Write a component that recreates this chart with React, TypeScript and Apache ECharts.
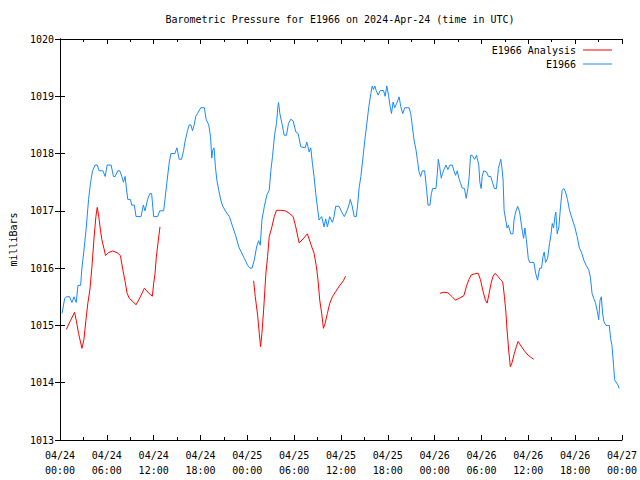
import React, { useEffect, useRef } from "react";
import * as echarts from "echarts";

const titleText = "Barometric Pressure for E1966 on 2024-Apr-24 (time in UTC)";
const dayLabels = ["04/24", "04/25", "04/26", "04/27"];
const yTicks = [1013, 1014, 1015, 1016, 1017, 1018, 1019, 1020];

// hours since 04/24 00:00 UTC, pressure in mbar
const observed: [number, number][] = [
  [0.26,1015.21],[0.6,1015.47],[0.81,1015.5],[1.23,1015.5],[1.53,1015.4],[1.79,1015.5],[2.08,1015.4],[2.3,1015.7],[2.64,1015.7],[2.81,1016.0],[3.06,1016.3],[3.36,1016.7],[3.66,1017.2],[3.92,1017.5],[4.17,1017.7],[4.51,1017.8],[4.77,1017.8],[5.02,1017.7],[5.49,1017.7],[5.79,1017.6],[6.04,1017.8],[6.55,1017.8],[6.85,1017.6],[7.06,1017.6],[7.4,1017.7],[7.66,1017.7],[7.92,1017.6],[8.13,1017.5],[8.34,1017.6],[8.51,1017.4],[8.68,1017.2],[9.02,1017.2],[9.19,1017.1],[9.53,1017.1],[9.74,1016.9],[10.38,1016.9],[10.68,1017.1],[10.89,1017.0],[11.23,1017.2],[11.49,1017.3],[11.74,1017.3],[12.0,1016.9],[12.51,1016.9],[12.77,1017.0],[13.28,1017.0],[13.45,1017.2],[13.7,1017.5],[14.0,1017.85],[14.21,1018.0],[14.72,1018.0],[14.98,1018.1],[15.28,1017.9],[15.57,1017.9],[15.83,1018.05],[16.0,1018.2],[16.34,1018.4],[16.55,1018.5],[16.77,1018.5],[16.98,1018.4],[17.19,1018.5],[17.4,1018.65],[17.62,1018.7],[18.04,1018.8],[18.5,1018.8],[18.72,1018.6],[19.06,1018.5],[19.28,1018.3],[19.45,1017.92],[19.57,1018.06],[19.74,1018.1],[19.91,1017.77],[20.09,1017.54],[20.34,1017.36],[20.6,1017.19],[20.85,1017.08],[21.28,1016.98],[21.7,1016.9],[22.13,1016.72],[22.55,1016.55],[22.9,1016.37],[23.19,1016.29],[23.62,1016.17],[24.04,1016.05],[24.34,1016.0],[24.6,1016.0],[24.89,1016.14],[25.19,1016.37],[25.45,1016.48],[25.66,1016.4],[25.87,1016.84],[26.17,1017.07],[26.51,1017.28],[26.81,1017.36],[27.02,1017.71],[27.23,1017.95],[27.49,1018.32],[27.74,1018.53],[27.92,1018.82],[28.0,1018.89],[28.17,1018.7],[28.43,1018.53],[28.72,1018.32],[29.02,1018.32],[29.28,1018.53],[29.58,1018.6],[29.87,1018.57],[30.21,1018.38],[30.51,1018.35],[30.85,1018.12],[31.41,1018.1],[31.62,1018.2],[31.92,1018.03],[32.13,1018.1],[32.34,1017.83],[32.55,1017.6],[32.77,1017.3],[32.98,1017.07],[33.19,1016.84],[33.53,1016.9],[33.83,1016.72],[34.04,1016.86],[34.26,1016.72],[34.55,1016.9],[34.9,1016.8],[35.11,1016.9],[35.32,1017.08],[35.75,1017.08],[36.09,1016.98],[36.43,1016.9],[36.77,1017.0],[37.02,1017.1],[37.19,1017.2],[37.41,1017.1],[37.7,1016.9],[37.96,1016.9],[38.13,1017.1],[38.34,1017.42],[38.55,1017.6],[38.81,1017.92],[39.06,1018.24],[39.32,1018.53],[39.57,1018.82],[39.83,1019.05],[40.0,1019.18],[40.17,1019.12],[40.34,1019.18],[40.51,1019.1],[40.77,1019.02],[41.02,1019.1],[41.45,1019.1],[41.66,1019.0],[41.87,1019.18],[42.09,1019.02],[42.3,1018.82],[42.47,1018.7],[42.68,1018.9],[42.89,1018.8],[43.15,1018.88],[43.45,1018.99],[43.66,1018.82],[43.92,1018.7],[44.17,1018.8],[44.73,1018.8],[44.94,1018.7],[45.15,1018.47],[45.36,1018.24],[45.62,1018.06],[45.79,1017.89],[46.0,1017.68],[46.21,1017.6],[46.43,1017.7],[46.72,1017.7],[46.98,1017.36],[47.15,1017.1],[47.4,1017.1],[47.58,1017.3],[47.75,1017.39],[48.17,1017.39],[48.34,1017.65],[48.47,1017.9],[48.64,1017.77],[48.85,1017.57],[49.02,1017.65],[49.19,1017.72],[49.45,1017.8],[49.7,1017.72],[49.96,1017.8],[50.26,1017.8],[50.47,1017.7],[50.68,1017.62],[50.9,1017.7],[51.11,1017.57],[51.32,1017.48],[51.53,1017.4],[51.83,1017.39],[52.04,1017.22],[52.26,1017.39],[52.43,1017.6],[52.6,1017.97],[52.81,1017.97],[53.11,1017.9],[53.36,1017.97],[53.66,1017.8],[53.79,1017.5],[53.96,1017.39],[54.09,1017.6],[54.3,1017.7],[54.64,1017.68],[54.9,1017.6],[55.19,1017.6],[55.41,1017.5],[55.66,1017.39],[55.92,1017.39],[56.17,1017.74],[56.34,1017.83],[56.47,1017.9],[56.6,1017.78],[56.77,1017.54],[56.9,1017.01],[57.11,1016.84],[57.28,1016.7],[57.45,1016.75],[57.75,1016.6],[58.04,1016.6],[58.17,1016.84],[58.38,1016.98],[58.64,1017.08],[58.89,1016.98],[59.15,1016.72],[59.4,1016.52],[59.57,1016.7],[59.75,1016.5],[60.0,1016.17],[60.17,1016.1],[60.72,1016.1],[60.94,1015.91],[61.19,1015.79],[61.45,1016.0],[61.7,1016.0],[61.88,1016.2],[62.04,1016.28],[62.21,1016.1],[62.47,1016.17],[62.72,1016.43],[62.9,1016.58],[63.07,1016.78],[63.24,1016.7],[63.41,1016.9],[63.53,1016.98],[63.7,1016.6],[63.92,1016.72],[64.13,1017.07],[64.34,1017.36],[64.55,1017.39],[64.77,1017.33],[65.02,1017.2],[65.28,1017.01],[65.62,1016.86],[65.96,1016.72],[66.26,1016.55],[66.55,1016.35],[66.81,1016.28],[67.11,1016.14],[67.41,1016.05],[67.75,1015.97],[67.96,1015.84],[68.17,1015.56],[68.39,1015.47],[68.6,1015.4],[68.85,1015.24],[69.02,1015.1],[69.19,1015.44],[69.36,1015.5],[69.53,1015.2],[69.7,1015.06],[69.96,1015.0],[70.38,1015.0],[70.55,1014.77],[70.72,1014.65],[70.94,1014.28],[71.06,1014.05],[71.49,1013.96],[71.66,1013.9]
];

const analysis1: [number, number][] = [
  [0.81,1014.93],[1.36,1015.09],[1.87,1015.23],[2.08,1015.09],[2.38,1014.86],[2.81,1014.6],[3.06,1014.75],[3.32,1015.09],[3.57,1015.39],[3.83,1015.62],[4.09,1016.02],[4.34,1016.49],[4.6,1016.9],[4.77,1017.06],[4.94,1016.93],[5.15,1016.7],[5.36,1016.5],[5.62,1016.35],[5.83,1016.22],[6.21,1016.27],[6.77,1016.3],[7.32,1016.27],[7.74,1016.22],[8.04,1015.98],[8.34,1015.77],[8.6,1015.56],[8.89,1015.47],[9.32,1015.42],[9.74,1015.36],[10.3,1015.5],[10.81,1015.65],[11.32,1015.57],[11.83,1015.51],[12.0,1015.73],[12.17,1015.9],[12.34,1016.19],[12.6,1016.49],[12.81,1016.72]
];
const analysis2: [number, number][] = [
  [24.81,1015.78],[25.02,1015.5],[25.32,1015.18],[25.53,1014.86],[25.7,1014.63],[25.87,1014.86],[26.09,1015.27],[26.38,1015.91],[26.6,1016.2],[26.81,1016.55],[27.15,1016.72],[27.45,1016.9],[27.74,1017.01],[28.3,1017.01],[28.85,1017.0],[29.36,1016.96],[29.87,1016.9],[30.21,1016.72],[30.64,1016.44],[31.15,1016.51],[31.7,1016.6],[32.13,1016.42],[32.55,1016.26],[32.85,1016.03],[33.06,1015.79],[33.28,1015.44],[33.53,1015.21],[33.75,1014.95],[33.96,1015.03],[34.26,1015.21],[34.55,1015.38],[34.9,1015.5],[35.32,1015.59],[35.75,1015.68],[36.3,1015.78],[36.6,1015.86]
];
const analysis3: [number, number][] = [
  [48.68,1015.56],[49.19,1015.58],[49.7,1015.57],[50.26,1015.5],[50.68,1015.44],[51.24,1015.48],[51.75,1015.52],[52.09,1015.69],[52.39,1015.8],[52.68,1015.88],[53.11,1015.9],[53.58,1015.91],[53.87,1015.8],[54.21,1015.59],[54.51,1015.44],[54.73,1015.39],[54.98,1015.56],[55.24,1015.74],[55.49,1015.86],[55.75,1015.91],[56.09,1015.86],[56.43,1015.8],[56.73,1015.76],[56.94,1015.5],[57.11,1015.27],[57.28,1014.92],[57.49,1014.57],[57.7,1014.28],[57.92,1014.35],[58.21,1014.51],[58.47,1014.63],[58.68,1014.72],[59.07,1014.64],[59.49,1014.56],[59.83,1014.5],[60.26,1014.45],[60.68,1014.41]
];

const FONT = "DejaVu Sans Mono";
const BLUE = "#1a88ff";
const RED = "#ff0000";

function xLabel(v: number): string {
  const day = Math.floor(v / 24);
  const hr = Math.round(v - day * 24);
  return dayLabels[day] + "\n" + String(hr).padStart(2, "0") + ":00";
}

export default function App() {
  const ref = useRef<HTMLDivElement>(null);
  useEffect(() => {
    if (!ref.current) return;
    const chart = echarts.init(ref.current, null, { renderer: "svg" });
    const axisLine = { show: true, lineStyle: { color: "#000", width: 1 } };
    const xBase = {
      type: "value",
      min: 0,
      max: 72,
      interval: 6,
      axisLine,
      axisTick: { show: true, inside: true, length: 5, lineStyle: { color: "#000" } },
      minorTick: { show: true, splitNumber: 2, length: 3, lineStyle: { color: "#000" } },
      splitLine: { show: false },
      minorSplitLine: { show: false },
    };
    const yBase = {
      type: "value",
      min: yTicks[0],
      max: yTicks[yTicks.length - 1],
      interval: 1,
      axisLine,
      axisTick: { show: true, inside: true, length: 5, lineStyle: { color: "#000" } },
      splitLine: { show: false },
    };
    const lineSeries = (name: string, data: [number, number][], color: string) => ({
      name,
      type: "line",
      data,
      symbol: "none",
      showSymbol: false,
      lineStyle: { color, width: 1 },
      itemStyle: { color },
      connectNulls: false,
      silent: true,
    });
    const legendCommon = {
      right: 28,
      padding: 0,
      align: "right",
      icon: "rect",
      itemWidth: 29,
      itemHeight: 1,
      selectedMode: false,
      textStyle: { fontFamily: FONT, fontSize: 10, color: "#000", padding: [0, 2, 0, 0] },
    };
    chart.setOption({
      animation: false,
      backgroundColor: "#fff",
      title: {
        text: titleText,
        left: 340,
        textAlign: "center",
        top: 14,
        padding: 0,
        textStyle: { fontFamily: FONT, fontSize: 10, fontWeight: "normal", color: "#000" },
      },
      legend: [
        { ...legendCommon, data: ["E1966 Analysis"], top: 45 },
        { ...legendCommon, data: ["E1966"], top: 59 },
      ],
      grid: { left: 58, right: 18, top: 39, bottom: 40, containLabel: false },
      xAxis: [
        {
          ...xBase,
          position: "bottom",
          axisLabel: {
            show: true,
            margin: 8,
            fontFamily: FONT,
            fontSize: 10,
            color: "#000",
            lineHeight: 15,
            formatter: (v: number) => xLabel(v),
          },
        },
        { ...xBase, position: "top", axisLabel: { show: false } },
      ],
      yAxis: [
        {
          ...yBase,
          position: "left",
          name: "milliBars",
          nameLocation: "middle",
          nameRotate: 90,
          nameGap: 42,
          nameTextStyle: { fontFamily: FONT, fontSize: 10, color: "#000" },
          axisLabel: {
            show: true,
            margin: 6,
            fontFamily: FONT,
            fontSize: 10,
            color: "#000",
            formatter: (v: number) => String(v),
          },
        },
        { ...yBase, position: "right", axisLabel: { show: false } },
      ],
      series: [
        lineSeries("E1966 Analysis", analysis1, RED),
        lineSeries("E1966 Analysis", analysis2, RED),
        lineSeries("E1966 Analysis", analysis3, RED),
        lineSeries("E1966", observed, BLUE),
      ],
    });
    return () => chart.dispose();
  }, []);
  return (
    <div
      ref={ref}
      style={{ position: "fixed", left: 0, top: 0, width: 640, height: 480, background: "#fff" }}
    />
  );
}
